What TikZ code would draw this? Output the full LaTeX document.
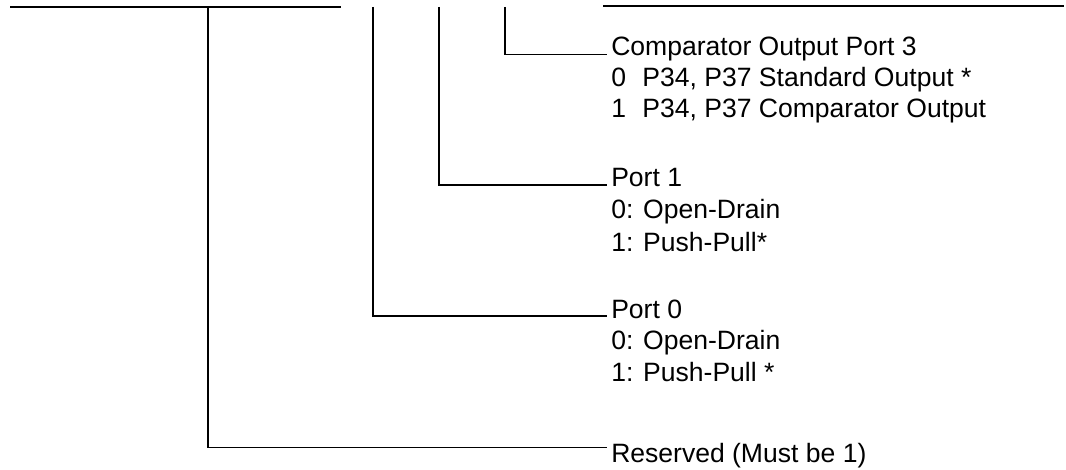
\documentclass[tikz,border=0pt]{standalone}
\usepackage{fontspec}
\setmainfont{Liberation Sans}
\tikzset{
  lbl/.style={anchor=base west, inner sep=0pt, font=\fontsize{19.9}{24}\selectfont},
  wire/.style={line width=0.8pt},
  bus/.style={line width=1.5pt},
}
\begin{document}
\begin{tikzpicture}[x=0.75pt,y=-0.75pt]
\useasboundingbox (0,0) rectangle (1066,470);

% Bus en haut
\coordinate (busL) at (10,7);
\coordinate (busLend) at (341,7);
\coordinate (busR) at (603,6);
\coordinate (busRend) at (1064,6);
\draw[wire] (busL) -- (busLend);
\draw[bus] (busR) -- (busRend);

% Points de depart des bits
\coordinate (b7) at (208,7);
\coordinate (b3) at (373,7);
\coordinate (b2) at (439,7);
\coordinate (b1) at (505,7);

% Textes
\node[lbl] (cmp) at (611,56) {Comparator Output Port 3};
\node[lbl] (cmpa) at (611,87) {0\hspace{0.34em} P34, P37 Standard Output *};
\node[lbl] (cmpb) at (611,118) {1\hspace{0.34em} P34, P37 Comparator Output};

\node[lbl] (pone) at (611,187) {Port 1};
\node[lbl] (ponea) at (611,219) {0: Open-Drain};
\node[lbl] (poneb) at (611,251) {1: Push-Pull*};

\node[lbl] (pzero) at (611,318) {Port 0};
\node[lbl] (pzeroa) at (611,349) {0: Open-Drain};
\node[lbl] (pzerob) at (611,381) {1: Push-Pull *};

\node[lbl] (rsv) at (611,462) {Reserved (Must be 1)};

% Liaisons
\draw[wire] (b1) |- ([xshift=-3pt,yshift=1pt]cmp.base west);
\draw[wire] (b2) |- ([xshift=-3pt,yshift=1.5pt]pone.base west);
\draw[wire] (b3) |- ([xshift=-3pt,yshift=1.5pt]pzero.base west);
\draw[wire] (b7) |- ([xshift=-3pt,yshift=11.2pt]rsv.base west);

\end{tikzpicture}
\end{document}
